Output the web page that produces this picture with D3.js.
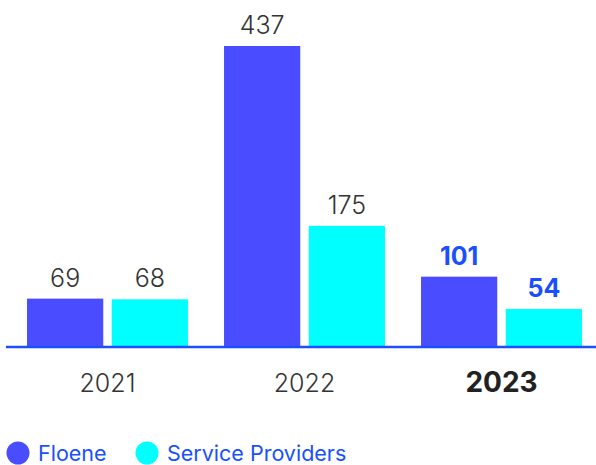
<!DOCTYPE html>
<html>
<head>
<meta charset="utf-8">
<script src="https://cdn.jsdelivr.net/npm/d3@7"></script>
<style>
  html, body { margin: 0; padding: 0; background: #fff; }
  svg { display: block; font-family: Inter, "Open Sans", sans-serif; }
</style>
</head>
<body>
<svg id="chart" width="596" height="465"></svg>
<script>
// Yearly counts for Floene and service providers
const years = ["2021", "2022", "2023"];
const seriesNames = ["Floene", "Service Providers"];
const floeneValues = [69, 437, 101];
const providerValues = [68, 175, 54];
const highlightYear = "2023";

const colors = { "Floene": "#4a4dff", "Service Providers": "#00ffff" };
const accent = "#1a4fff";

const svg = d3.select("#chart");
const baseY = 346;

const rows = years.map((yr, i) => ({
  year: yr,
  values: [
    { key: "Floene", value: floeneValues[i] },
    { key: "Service Providers", value: providerValues[i] }
  ]
}));

const x0 = d3.scaleBand().domain(years).range([9, 600]).paddingInner(0.183).paddingOuter(0.0915);
const x1 = d3.scaleBand().domain(seriesNames).range([0, x0.bandwidth()]).paddingInner(0.1).paddingOuter(0);
const y = d3.scaleLinear().domain([0, 437]).range([baseY, 46]);

const groups = svg.selectAll("g.year")
  .data(rows)
  .join("g")
  .attr("class", "year")
  .attr("transform", d => `translate(${x0(d.year)},0)`);

groups.selectAll("rect")
  .data(d => d.values.map(v => ({ ...v, year: d.year })))
  .join("rect")
  .attr("x", d => x1(d.key))
  .attr("width", x1.bandwidth())
  .attr("y", d => y(d.value))
  .attr("height", d => baseY - y(d.value))
  .attr("fill", d => colors[d.key]);

groups.selectAll("text.val")
  .data(d => d.values.map(v => ({ ...v, year: d.year })))
  .join("text")
  .attr("class", "val")
  .attr("x", d => x1(d.key) + x1.bandwidth() / 2)
  .attr("y", d => y(d.value) - 12)
  .attr("text-anchor", "middle")
  .attr("font-size", 25)
  .attr("font-weight", d => d.year === highlightYear ? 700 : 300)
  .attr("fill", d => d.year === highlightYear ? accent : "#333")
  .text(d => d.value);

// Baseline
svg.append("line")
  .attr("x1", 6).attr("x2", 596)
  .attr("y1", baseY + 1).attr("y2", baseY + 1)
  .attr("stroke", accent)
  .attr("stroke-width", 2.5);

// Year labels under the axis
const xAxis = d3.axisBottom(x0).tickSize(0).tickPadding(0);
const axisG = svg.append("g").attr("transform", `translate(0,${baseY})`).call(xAxis);
axisG.select(".domain").remove();
axisG.selectAll(".tick text")
  .attr("y", 46)
  .attr("dy", 0)
  .attr("font-family", "Inter, sans-serif")
  .attr("font-size", d => d === highlightYear ? 28 : 25)
  .attr("font-weight", d => d === highlightYear ? 700 : 300)
  .attr("fill", d => d === highlightYear ? "#222" : "#333");

// Legend
const legend = svg.append("g").attr("transform", "translate(0,453)");
const legendX = [18, 147];
seriesNames.forEach((name, i) => {
  const g = legend.append("g").attr("transform", `translate(${legendX[i]},0)`);
  g.append("circle").attr("r", 11.5).attr("fill", colors[name]);
  g.append("text")
    .attr("x", 20)
    .attr("y", 8)
    .attr("font-size", 21.5)
    .attr("font-weight", 400)
    .attr("fill", accent)
    .text(name);
});
</script>
</body>
</html>
